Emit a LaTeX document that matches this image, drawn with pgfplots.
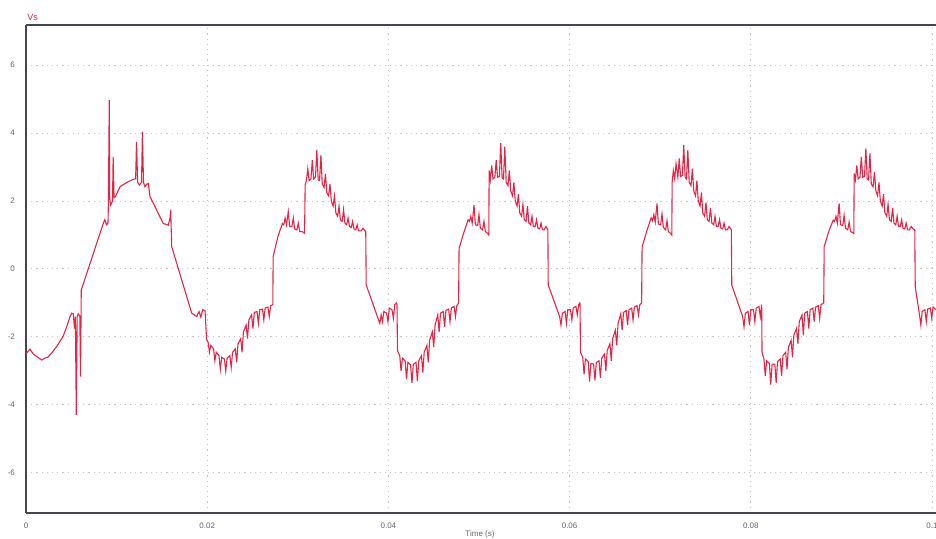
\documentclass[border=0pt]{standalone}
\usepackage{pgfplots}
\pgfplotsset{compat=1.18}
\usepackage{fontspec}
\setmainfont{Liberation Sans}
\definecolor{wave}{RGB}{228,38,70}
\definecolor{frame}{RGB}{70,70,80}
\begin{document}
\begin{tikzpicture}
\begin{axis}[
  at={(13pt,13pt)}, anchor=south west,
  scale only axis, width=455pt, height=244pt,
  xmin=0, xmax=0.100442, ymin=-7.18, ymax=7.18,
  axis x line*=box, axis y line*=left,
  axis line style={frame, line width=0.9pt},
  major tick length=0pt,
  xtick={0,0.02,0.04,0.06,0.08,0.1},
  xticklabels={0,0.02,0.04,0.06,0.08,0.1},
  ytick={-6,-4,-2,0,2,4,6},
  scaled x ticks=false,
  /pgf/number format/assume math mode=true,
  tick label style={font=\fontsize{4}{4}\selectfont, text=black!60},
  xticklabel style={yshift=-1.5pt},
  yticklabel style={xshift=-2pt},
  grid=major,
  grid style={gray!45, line width=0.5pt, dash pattern=on 0.6pt off 2pt},
  clip mode=individual,
]
\addplot[wave, line width=0.55pt] table {
t v
0.00000 -2.45
0.00008 -2.47
0.00044 -2.36
0.00080 -2.50
0.00120 -2.58
0.00173 -2.68
0.00210 -2.62
0.00243 -2.59
0.00290 -2.45
0.00339 -2.28
0.00370 -2.15
0.00408 -1.99
0.00450 -1.70
0.00486 -1.40
0.00505 -1.30
0.00522 -1.32
0.00535 -1.75
0.00545 -1.40
0.00555 -4.29
0.00565 -1.40
0.00577 -1.32
0.00594 -1.38
0.00602 -3.17
0.00610 -0.62
0.00853 1.34
0.00870 1.45
0.00890 1.30
0.00905 1.35
0.00910 2.03
0.00919 4.97
0.00924 2.05
0.00935 1.88
0.00955 2.00
0.00962 3.30
0.00972 2.10
0.00988 2.13
0.01038 2.42
0.01115 2.55
0.01184 2.64
0.01210 2.65
0.01220 3.74
0.01232 2.55
0.01253 2.47
0.01275 2.55
0.01285 4.04
0.01297 2.55
0.01313 2.42
0.01335 2.50
0.01350 2.52
0.01369 2.13
0.01515 1.34
0.01571 1.29
0.01590 1.50
0.01597 1.74
0.01608 0.66
0.01829 -1.30
0.01884 -1.40
0.01910 -1.25
0.01930 -1.42
0.01950 -1.20
0.01976 -1.23
0.01994 -2.09
0.02010 -2.15
0.02025 -2.45
0.02040 -2.25
0.02070 -2.35
0.02085 -2.70
0.02100 -2.45
0.02130 -2.55
0.02145 -2.95
0.02160 -2.60
0.02190 -2.65
0.02205 -3.00
0.02220 -2.62
0.02250 -2.55
0.02265 -2.90
0.02280 -2.45
0.02310 -2.35
0.02325 -2.75
0.02340 -2.20
0.02370 -2.05
0.02385 -2.45
0.02400 -1.85
0.02430 -1.65
0.02445 -2.05
0.02460 -1.50
0.02490 -1.35
0.02505 -1.75
0.02520 -1.28
0.02550 -1.25
0.02565 -1.60
0.02580 -1.20
0.02610 -1.18
0.02625 -1.50
0.02640 -1.15
0.02670 -1.12
0.02685 -1.40
0.02700 -1.08
0.02724 -1.05
0.02728 0.36
0.02780 0.95
0.02830 1.34
0.02845 1.30
0.02860 1.50
0.02875 1.30
0.02895 1.69
0.02910 1.25
0.02935 1.25
0.02950 1.50
0.02965 1.18
0.02990 1.15
0.03005 1.35
0.03020 1.10
0.03050 1.10
0.03075 1.05
0.03081 2.47
0.03095 2.60
0.03110 2.95
0.03125 2.60
0.03145 2.65
0.03160 3.20
0.03175 2.65
0.03195 2.70
0.03210 3.50
0.03225 2.62
0.03240 2.60
0.03255 3.35
0.03270 2.50
0.03290 2.40
0.03305 2.80
0.03320 2.25
0.03340 2.15
0.03355 2.50
0.03370 2.00
0.03390 1.85
0.03405 2.15
0.03420 1.65
0.03440 1.55
0.03455 1.85
0.03470 1.45
0.03490 1.40
0.03505 1.75
0.03520 1.35
0.03540 1.30
0.03555 1.50
0.03570 1.25
0.03590 1.22
0.03605 1.40
0.03620 1.18
0.03640 1.15
0.03655 1.30
0.03670 1.12
0.03700 1.12
0.03720 1.20
0.03750 1.10
0.03755 -0.47
0.03905 -1.60
0.03920 -1.35
0.03935 -1.55
0.03950 -1.25
0.03980 -1.30
0.03995 -1.55
0.04010 -1.15
0.04040 -1.20
0.04055 -1.45
0.04070 -1.05
0.04090 -1.00
0.04095 -1.05
0.04100 -2.40
0.04125 -2.55
0.04140 -3.00
0.04155 -2.62
0.04185 -2.70
0.04200 -3.25
0.04215 -2.75
0.04245 -2.82
0.04260 -3.36
0.04275 -2.80
0.04305 -2.75
0.04320 -3.30
0.04335 -2.70
0.04365 -2.55
0.04380 -3.05
0.04395 -2.45
0.04425 -2.25
0.04440 -2.75
0.04455 -2.10
0.04485 -1.85
0.04500 -2.30
0.04515 -1.65
0.04545 -1.35
0.04560 -1.85
0.04575 -1.30
0.04605 -1.25
0.04620 -1.70
0.04635 -1.22
0.04665 -1.18
0.04680 -1.55
0.04695 -1.15
0.04725 -1.10
0.04740 -1.40
0.04755 -1.08
0.04775 -1.00
0.04780 0.60
0.04830 1.05
0.04880 1.45
0.04895 1.40
0.04910 1.55
0.04925 1.35
0.04945 1.88
0.04960 1.30
0.04985 1.28
0.05000 1.60
0.05015 1.20
0.05040 1.15
0.05055 1.40
0.05070 1.10
0.05095 1.05
0.05108 1.00
0.05112 2.90
0.05125 2.62
0.05140 3.05
0.05155 2.65
0.05175 2.70
0.05190 3.20
0.05205 2.70
0.05225 2.72
0.05240 3.70
0.05255 2.68
0.05270 2.65
0.05285 3.60
0.05300 2.55
0.05320 2.45
0.05335 2.90
0.05350 2.30
0.05370 2.15
0.05385 2.55
0.05400 2.00
0.05420 1.85
0.05435 2.20
0.05450 1.65
0.05470 1.55
0.05485 1.90
0.05500 1.45
0.05520 1.40
0.05535 1.85
0.05550 1.35
0.05570 1.30
0.05585 1.55
0.05600 1.25
0.05620 1.25
0.05635 1.45
0.05650 1.20
0.05670 1.18
0.05685 1.35
0.05700 1.15
0.05720 1.15
0.05740 1.25
0.05760 1.15
0.05764 -0.47
0.05890 -1.40
0.05905 -1.65
0.05920 -1.30
0.05950 -1.25
0.05965 -1.60
0.05980 -1.20
0.06010 -1.20
0.06025 -1.50
0.06040 -1.15
0.06070 -1.10
0.06085 -1.35
0.06100 -1.05
0.06113 -1.00
0.06115 -1.02
0.06120 -2.45
0.06145 -2.60
0.06160 -3.10
0.06175 -2.65
0.06205 -2.72
0.06220 -3.31
0.06235 -2.78
0.06265 -2.80
0.06280 -3.28
0.06295 -2.75
0.06325 -2.70
0.06340 -3.20
0.06355 -2.62
0.06385 -2.50
0.06400 -3.00
0.06415 -2.40
0.06445 -2.20
0.06460 -2.70
0.06475 -2.05
0.06505 -1.80
0.06520 -2.25
0.06535 -1.60
0.06565 -1.32
0.06580 -1.80
0.06595 -1.28
0.06625 -1.22
0.06640 -1.65
0.06655 -1.20
0.06685 -1.15
0.06700 -1.50
0.06715 -1.12
0.06745 -1.08
0.06760 -1.35
0.06775 -1.05
0.06795 -1.00
0.06800 0.65
0.06850 1.10
0.06900 1.50
0.06915 1.42
0.06930 1.60
0.06945 1.38
0.06965 1.93
0.06980 1.32
0.07005 1.30
0.07020 1.62
0.07035 1.22
0.07060 1.15
0.07075 1.42
0.07090 1.10
0.07115 1.05
0.07128 1.00
0.07132 2.55
0.07145 2.90
0.07160 2.65
0.07175 3.10
0.07195 2.70
0.07210 3.25
0.07225 2.72
0.07245 2.75
0.07260 3.65
0.07275 2.70
0.07290 2.65
0.07305 3.50
0.07320 2.55
0.07340 2.45
0.07355 2.95
0.07370 2.30
0.07390 2.15
0.07405 2.60
0.07420 2.00
0.07440 1.85
0.07455 2.25
0.07470 1.65
0.07490 1.55
0.07505 1.95
0.07520 1.45
0.07540 1.40
0.07555 1.80
0.07570 1.35
0.07590 1.30
0.07605 1.55
0.07620 1.25
0.07640 1.25
0.07655 1.45
0.07670 1.20
0.07690 1.18
0.07705 1.35
0.07720 1.15
0.07740 1.15
0.07760 1.25
0.07785 1.15
0.07790 -0.47
0.07910 -1.40
0.07925 -1.70
0.07940 -1.30
0.07970 -1.25
0.07985 -1.65
0.08000 -1.20
0.08030 -1.20
0.08045 -1.55
0.08060 -1.15
0.08090 -1.10
0.08105 -1.40
0.08120 -1.05
0.08124 -2.45
0.08145 -2.65
0.08160 -3.15
0.08175 -2.70
0.08205 -2.78
0.08220 -3.40
0.08235 -2.80
0.08265 -2.80
0.08280 -3.35
0.08295 -2.72
0.08325 -2.65
0.08340 -3.15
0.08355 -2.55
0.08385 -2.45
0.08400 -2.95
0.08415 -2.30
0.08445 -2.10
0.08460 -2.60
0.08475 -1.95
0.08505 -1.75
0.08520 -2.20
0.08535 -1.55
0.08565 -1.35
0.08580 -1.95
0.08595 -1.30
0.08625 -1.25
0.08640 -1.75
0.08655 -1.20
0.08685 -1.15
0.08700 -1.55
0.08715 -1.12
0.08745 -1.08
0.08760 -1.45
0.08775 -1.05
0.08805 -1.00
0.08810 0.66
0.08860 1.10
0.08910 1.44
0.08925 1.40
0.08940 1.55
0.08955 1.35
0.08975 1.93
0.08990 1.30
0.09015 1.28
0.09030 1.58
0.09045 1.20
0.09070 1.15
0.09085 1.38
0.09100 1.10
0.09125 1.07
0.09137 1.05
0.09141 2.81
0.09155 2.62
0.09170 3.05
0.09185 2.65
0.09205 2.70
0.09220 3.30
0.09235 2.70
0.09255 2.72
0.09270 3.55
0.09285 2.65
0.09300 2.62
0.09315 3.40
0.09330 2.50
0.09350 2.42
0.09365 2.85
0.09380 2.30
0.09400 2.15
0.09415 2.55
0.09430 2.00
0.09450 1.85
0.09465 2.20
0.09480 1.65
0.09500 1.55
0.09515 1.90
0.09530 1.45
0.09550 1.40
0.09565 1.80
0.09580 1.35
0.09600 1.30
0.09615 1.55
0.09630 1.25
0.09650 1.25
0.09665 1.45
0.09680 1.20
0.09700 1.18
0.09715 1.35
0.09730 1.15
0.09750 1.15
0.09770 1.25
0.09790 1.18
0.09810 1.15
0.09815 -0.52
0.09862 -1.35
0.09877 -1.65
0.09892 -1.25
0.09922 -1.20
0.09937 -1.55
0.09952 -1.18
0.09982 -1.15
0.09997 -1.45
0.10012 -1.12
0.10042 -1.20
};
\end{axis}
\node[anchor=south west, text=wave, font=\fontsize{4.5}{5}\selectfont, inner sep=0pt]
  at (13.5pt,259pt) {Vs};
\node[anchor=center, text=black!60, font=\fontsize{4}{4}\selectfont, inner sep=0pt]
  at (240pt,2.2pt) {Time (s)};
\pgfresetboundingbox
\path (0,0) rectangle (468pt,269.5pt);
\end{tikzpicture}
\end{document}
